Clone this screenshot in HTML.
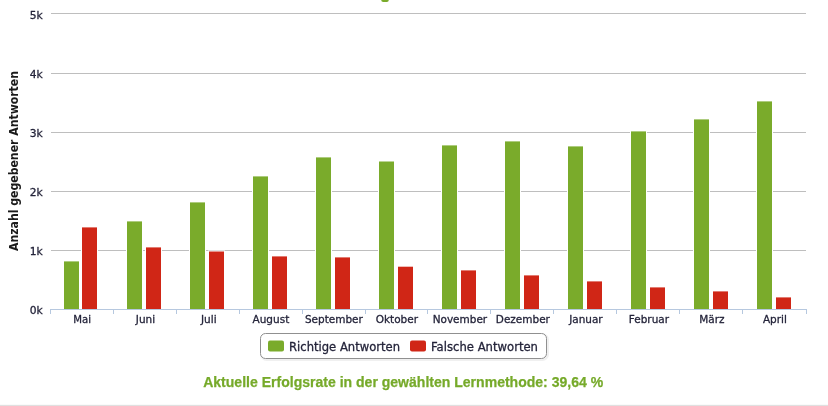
<!DOCTYPE html>
<html lang="de"><head><meta charset="utf-8"><title>Lernerfolg</title>
<style>
html,body{margin:0;padding:0;background:#fff;}
body{width:828px;height:406px;overflow:hidden;position:relative;}
svg{position:absolute;left:0;top:0;display:block;}
svg text{font-family:"DejaVu Sans","Liberation Sans",sans-serif;stroke-linejoin:round;}
svg text.t{fill:#24243a;stroke:#24243a;stroke-width:0.3px;}
.bb{position:absolute;left:0;top:404px;width:828px;height:2px;background:linear-gradient(#fafafa 50%,#e0e0e0 50%);}
</style></head><body>
<svg width="828" height="406" viewBox="0 0 828 406">
<rect x="381.2" y="-3" width="7.6" height="4.9" rx="2" fill="#7aab2b"/>
<rect x="51" y="13" width="755" height="1" fill="#bebebe"/>
<rect x="51" y="73" width="755" height="1" fill="#bebebe"/>
<rect x="51" y="132" width="755" height="1" fill="#bebebe"/>
<rect x="51" y="191" width="755" height="1" fill="#bebebe"/>
<rect x="51" y="250" width="755" height="1" fill="#bebebe"/>
<rect x="63" y="260.4" width="17" height="49.6" fill="#fff"/>
<rect x="64" y="261.4" width="15" height="47.6" fill="#7aab2b"/>
<rect x="81" y="226.4" width="17" height="83.6" fill="#fff"/>
<rect x="82" y="227.4" width="15" height="81.6" fill="#d02616"/>
<rect x="126" y="220.4" width="17" height="89.6" fill="#fff"/>
<rect x="127" y="221.4" width="15" height="87.6" fill="#7aab2b"/>
<rect x="145" y="246.4" width="17" height="63.6" fill="#fff"/>
<rect x="146" y="247.4" width="15" height="61.6" fill="#d02616"/>
<rect x="189" y="201.4" width="17" height="108.6" fill="#fff"/>
<rect x="190" y="202.4" width="15" height="106.6" fill="#7aab2b"/>
<rect x="208" y="250.5" width="17" height="59.5" fill="#fff"/>
<rect x="209" y="251.5" width="15" height="57.5" fill="#d02616"/>
<rect x="252" y="175.4" width="17" height="134.6" fill="#fff"/>
<rect x="253" y="176.4" width="15" height="132.6" fill="#7aab2b"/>
<rect x="271" y="255.4" width="17" height="54.6" fill="#fff"/>
<rect x="272" y="256.4" width="15" height="52.6" fill="#d02616"/>
<rect x="315" y="156.4" width="17" height="153.6" fill="#fff"/>
<rect x="316" y="157.4" width="15" height="151.6" fill="#7aab2b"/>
<rect x="334" y="256.4" width="17" height="53.6" fill="#fff"/>
<rect x="335" y="257.4" width="15" height="51.6" fill="#d02616"/>
<rect x="378" y="160.5" width="17" height="149.5" fill="#fff"/>
<rect x="379" y="161.5" width="15" height="147.5" fill="#7aab2b"/>
<rect x="397" y="265.7" width="17" height="44.3" fill="#fff"/>
<rect x="398" y="266.7" width="15" height="42.3" fill="#d02616"/>
<rect x="441" y="144.4" width="17" height="165.6" fill="#fff"/>
<rect x="442" y="145.4" width="15" height="163.6" fill="#7aab2b"/>
<rect x="460" y="269.4" width="17" height="40.6" fill="#fff"/>
<rect x="461" y="270.4" width="15" height="38.6" fill="#d02616"/>
<rect x="504" y="140.4" width="17" height="169.6" fill="#fff"/>
<rect x="505" y="141.4" width="15" height="167.6" fill="#7aab2b"/>
<rect x="523" y="274.4" width="17" height="35.6" fill="#fff"/>
<rect x="524" y="275.4" width="15" height="33.6" fill="#d02616"/>
<rect x="567" y="145.4" width="17" height="164.6" fill="#fff"/>
<rect x="568" y="146.4" width="15" height="162.6" fill="#7aab2b"/>
<rect x="586" y="280.4" width="17" height="29.6" fill="#fff"/>
<rect x="587" y="281.4" width="15" height="27.6" fill="#d02616"/>
<rect x="630" y="130.4" width="17" height="179.6" fill="#fff"/>
<rect x="631" y="131.4" width="15" height="177.6" fill="#7aab2b"/>
<rect x="649" y="286.4" width="17" height="23.6" fill="#fff"/>
<rect x="650" y="287.4" width="15" height="21.6" fill="#d02616"/>
<rect x="693" y="118.4" width="17" height="191.6" fill="#fff"/>
<rect x="694" y="119.4" width="15" height="189.6" fill="#7aab2b"/>
<rect x="712" y="290.4" width="17" height="19.6" fill="#fff"/>
<rect x="713" y="291.4" width="15" height="17.6" fill="#d02616"/>
<rect x="756" y="100.4" width="17" height="209.6" fill="#fff"/>
<rect x="757" y="101.4" width="15" height="207.6" fill="#7aab2b"/>
<rect x="775" y="296.4" width="17" height="13.6" fill="#fff"/>
<rect x="776" y="297.4" width="15" height="11.6" fill="#d02616"/>
<rect x="50" y="309" width="757" height="1" fill="#b6c8df"/>
<rect x="50" y="309" width="1" height="5" fill="#b6c8df"/>
<rect x="113" y="309" width="1" height="5" fill="#b6c8df"/>
<rect x="176" y="309" width="1" height="5" fill="#b6c8df"/>
<rect x="239" y="309" width="1" height="5" fill="#b6c8df"/>
<rect x="302" y="309" width="1" height="5" fill="#b6c8df"/>
<rect x="365" y="309" width="1" height="5" fill="#b6c8df"/>
<rect x="427" y="309" width="1" height="5" fill="#b6c8df"/>
<rect x="490" y="309" width="1" height="5" fill="#b6c8df"/>
<rect x="553" y="309" width="1" height="5" fill="#b6c8df"/>
<rect x="616" y="309" width="1" height="5" fill="#b6c8df"/>
<rect x="679" y="309" width="1" height="5" fill="#b6c8df"/>
<rect x="742" y="309" width="1" height="5" fill="#b6c8df"/>
<rect x="806" y="309" width="1" height="5" fill="#b6c8df"/>
<text class="t" x="42.7" y="19" text-anchor="end" font-size="11" textLength="13" lengthAdjust="spacingAndGlyphs">5k</text>
<text class="t" x="42.7" y="78" text-anchor="end" font-size="11" textLength="13" lengthAdjust="spacingAndGlyphs">4k</text>
<text class="t" x="42.7" y="137" text-anchor="end" font-size="11" textLength="13" lengthAdjust="spacingAndGlyphs">3k</text>
<text class="t" x="42.7" y="196" text-anchor="end" font-size="11" textLength="13" lengthAdjust="spacingAndGlyphs">2k</text>
<text class="t" x="42.7" y="255" text-anchor="end" font-size="11" textLength="13" lengthAdjust="spacingAndGlyphs">1k</text>
<text class="t" x="42.7" y="314" text-anchor="end" font-size="11" textLength="13" lengthAdjust="spacingAndGlyphs">0k</text>
<text class="t" x="82.2" y="323" text-anchor="middle" font-size="11" textLength="17.8" lengthAdjust="spacingAndGlyphs">Mai</text>
<text class="t" x="145.5" y="323" text-anchor="middle" font-size="11" textLength="19.3" lengthAdjust="spacingAndGlyphs">Juni</text>
<text class="t" x="208.8" y="323" text-anchor="middle" font-size="11" textLength="15.6" lengthAdjust="spacingAndGlyphs">Juli</text>
<text class="t" x="270.9" y="323" text-anchor="middle" font-size="11" textLength="36.7" lengthAdjust="spacingAndGlyphs">August</text>
<text class="t" x="333.9" y="323" text-anchor="middle" font-size="11" textLength="57.9" lengthAdjust="spacingAndGlyphs">September</text>
<text class="t" x="396.9" y="323" text-anchor="middle" font-size="11" textLength="42.3" lengthAdjust="spacingAndGlyphs">Oktober</text>
<text class="t" x="459.9" y="323" text-anchor="middle" font-size="11" textLength="54.5" lengthAdjust="spacingAndGlyphs">November</text>
<text class="t" x="522.9" y="323" text-anchor="middle" font-size="11" textLength="54.1" lengthAdjust="spacingAndGlyphs">Dezember</text>
<text class="t" x="585.9" y="323" text-anchor="middle" font-size="11" textLength="33.5" lengthAdjust="spacingAndGlyphs">Januar</text>
<text class="t" x="648.9" y="323" text-anchor="middle" font-size="11" textLength="40.2" lengthAdjust="spacingAndGlyphs">Februar</text>
<text class="t" x="711.9" y="323" text-anchor="middle" font-size="11" textLength="25.3" lengthAdjust="spacingAndGlyphs">März</text>
<text class="t" x="774.9" y="323" text-anchor="middle" font-size="11" textLength="24.0" lengthAdjust="spacingAndGlyphs">April</text>
<text transform="translate(18.3,161) rotate(-90)" text-anchor="middle" font-size="12" font-weight="bold" fill="#1a1a1a" textLength="180" lengthAdjust="spacingAndGlyphs">Anzahl gegebener Antworten</text>
<rect x="261.5" y="334.5" width="286" height="25" rx="5" fill="none" stroke="#000" stroke-opacity="0.06" stroke-width="3"/>
<rect x="260.5" y="333.5" width="286" height="25" rx="5" fill="#fff" stroke="#909090" stroke-width="1"/>
<rect x="268" y="340.5" width="16" height="11" rx="2" fill="#7aab2b"/>
<rect x="410" y="340.5" width="16" height="11" rx="2" fill="#d02616"/>
<text class="t" x="289" y="350.5" font-size="12" textLength="111" lengthAdjust="spacingAndGlyphs">Richtige Antworten</text>
<text class="t" x="431" y="350.5" font-size="12" textLength="107" lengthAdjust="spacingAndGlyphs">Falsche Antworten</text>
<text x="403.2" y="386.8" text-anchor="middle" font-size="14" font-weight="bold" fill="#76aa2a" stroke="#76aa2a" stroke-width="0.25" style="font-family:&quot;Liberation Sans&quot;,sans-serif" textLength="400" lengthAdjust="spacingAndGlyphs">Aktuelle Erfolgsrate in der gewählten Lernmethode: 39,64 %</text>
</svg>
<div class="bb"></div>
</body></html>
